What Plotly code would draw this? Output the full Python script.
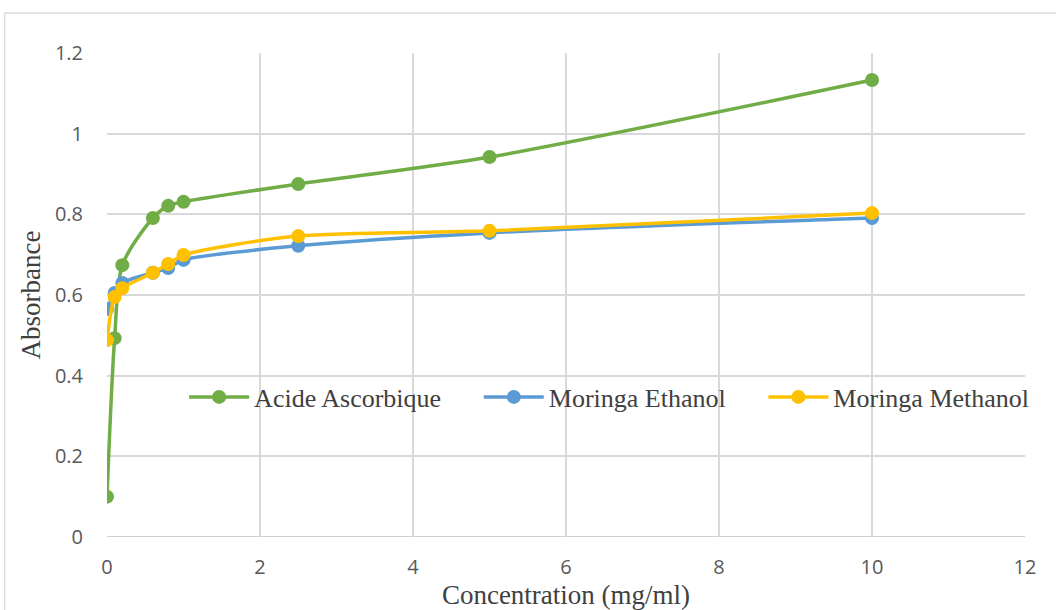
import plotly.graph_objects as go

# Concentrations (mg/ml)
concentration = [0, 0.1, 0.2, 0.6, 0.8, 1, 2.5, 5, 10]

# Absorbance readings per extract
acide_ascorbique = [0.100, 0.493, 0.674, 0.791, 0.821, 0.831, 0.875, 0.942, 1.133]
moringa_ethanol = [0.565, 0.605, 0.630, 0.655, 0.667, 0.687, 0.722, 0.754, 0.791]
moringa_methanol = [0.488, 0.595, 0.617, 0.655, 0.677, 0.699, 0.746, 0.759, 0.803]

series = [
    ("Acide Ascorbique", acide_ascorbique, "#70ad47", "legend"),
    ("Moringa Ethanol", moringa_ethanol, "#5b9bd5", "legend2"),
    ("Moringa Methanol", moringa_methanol, "#ffc000", "legend3"),
]

fig = go.Figure()
for name, values, color, leg in series:
    fig.add_trace(go.Scatter(
        x=concentration, y=values, name=name, legend=leg,
        mode="lines+markers",
        line=dict(color=color, width=3.5, shape="spline", smoothing=0.8),
        marker=dict(color=color, size=14),
    ))

serif = "Liberation Serif, Times New Roman, serif"
sans = "Open Sans, sans-serif"

legend_style = dict(
    orientation="h", yanchor="middle", xanchor="left", y=0.2893,
    font=dict(family=serif, size=26, color="#404040"),
    bgcolor="rgba(0,0,0,0)", itemwidth=60,
)

fig.update_layout(
    width=1056, height=610,
    margin=dict(l=107, r=31, t=53, b=73, autoexpand=False),
    paper_bgcolor="white", plot_bgcolor="white",
    showlegend=True,
    legend=dict(x=0.084, **legend_style),
    legend2=dict(x=0.405, **legend_style),
    legend3=dict(x=0.715, **legend_style),
    xaxis=dict(
        range=[0, 12], dtick=2, showgrid=True, gridcolor="#d9d9d9", gridwidth=1.5,
        zeroline=False, showline=False, automargin=False,
        ticks="outside", ticklen=12, tickcolor="rgba(0,0,0,0)",
        tickfont=dict(family=sans, size=20, color="#595959"),
        title=dict(text="Concentration (mg/ml)", standoff=6,
                   font=dict(family=serif, size=27, color="#404040")),
    ),
    yaxis=dict(
        range=[0, 1.2], dtick=0.2, showgrid=True, gridcolor="#d9d9d9", gridwidth=1.5,
        zeroline=False, showline=False, automargin=False,
        tickformat="~g",
        ticks="outside", ticklen=19, tickcolor="rgba(0,0,0,0)",
        tickfont=dict(family=sans, size=20, color="#595959"),
        title=dict(text="Absorbance", standoff=6,
                   font=dict(family=serif, size=27, color="#404040")),
    ),
)

# baseline along the x axis
fig.add_shape(type="line", xref="paper", yref="y", x0=0, x1=1, y0=0, y1=0,
              line=dict(color="#bfbfbf", width=1.5), layer="below")

# chart frame
fig.add_shape(type="line", xref="paper", yref="paper", x0=-0.1115, x1=1.1, y0=1.0826, y1=1.0826,
              line=dict(color="#d9d9d9", width=1.5))
fig.add_shape(type="line", xref="paper", yref="paper", x0=-0.1115, x1=-0.1115, y0=1.0826, y1=-0.2,
              line=dict(color="#d9d9d9", width=1.5))

fig.write_html("out.html")
